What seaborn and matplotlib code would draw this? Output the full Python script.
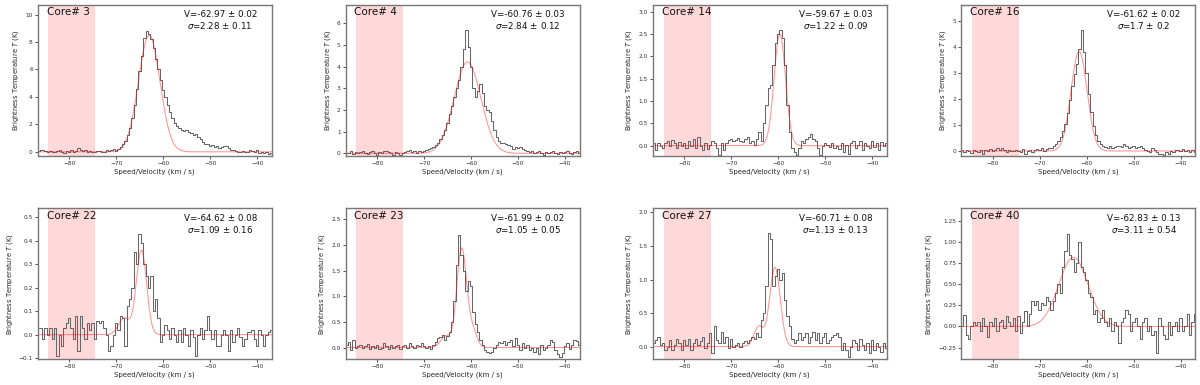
import numpy as np
import pandas as pd
from matplotlib import pyplot as plt
from matplotlib.ticker import MultipleLocator
import seaborn as sns

sns.set_style('ticks')
plt.rcParams['font.family'] = ['DejaVu Sans']

# channel centres (km/s), 0.5 km/s channels
vel = np.round(np.arange(-86.5, -36.75, 0.5), 2)

cores = ['3', '4', '14', '16', '22', '23', '27', '40']
v_txt = ['-62.97 ± 0.02', '-60.76 ± 0.03', '-59.67 ± 0.03', '-61.62 ± 0.02',
         '-64.62 ± 0.08', '-61.99 ± 0.02', '-60.71 ± 0.08', '-62.83 ± 0.13']
s_txt = ['2.28 ± 0.11', '2.84 ± 0.12', '1.22 ± 0.09', '1.7 ± 0.2',
         '1.09 ± 0.16', '1.05 ± 0.05', '1.13 ± 0.13', '3.11 ± 0.54']
ylims = [(-0.3, 10.7), (-0.12, 6.85), (-0.23, 3.15), (-0.19, 5.6),
         (-0.105, 0.537), (-0.23, 2.71), (-0.19, 2.06), (-0.39, 1.40)]
ysteps = [2, 1, 0.5, 1, 0.1, 0.5, 0.5, 0.25]

# brightness temperature spectra (K)
t_core3 = [0.05, 0.12, 0.1, 0.05, 0.0, 0.08, 0.02, -0.05, 0.05, 0.1,
           0.0, -0.1, 0.05, 0.02, 0.1, 0.0, 0.08, 0.25, 0.15, 0.05,
           0.1, -0.02, 0.05, -0.05, 0.02, 0.05, 0.08, 0.0, 0.02, 0.12,
           0.05, 0.1, 0.2, 0.05, 0.2, 0.35, 0.55, 0.8, 1.2, 1.7,
           2.5, 3.4, 4.6, 5.9, 7.0, 8.3, 8.8, 8.6, 8.2, 7.6,
           6.8, 6.0, 5.2, 4.5, 4.0, 3.4, 2.9, 2.5, 2.1, 1.9,
           1.7, 1.6, 1.5, 1.6, 1.45, 1.35, 1.2, 1.3, 1.05, 0.9,
           0.7, 0.55, 0.6, 0.45, 0.5, 0.35, 0.45, 0.3, 0.35, 0.4,
           0.45, 0.25, 0.1, 0.15, 0.05, 0.0, -0.05, 0.05, -0.02, 0.0,
           0.12, 0.05, -0.05, 0.1, -0.08, -0.02, -0.12, 0.0, -0.15, -0.1]
t_core4 = [0.02, 0.0, 0.1, -0.05, 0.05, 0.0, 0.08, 0.1, 0.02, -0.05,
           0.05, 0.1, 0.0, -0.1, 0.05, 0.0, 0.12, 0.1, 0.05, 0.0,
           -0.08, 0.05, 0.0, -0.1, 0.02, 0.05, 0.1, 0.15, 0.05, 0.1,
           0.02, 0.12, 0.05, 0.1, 0.15, 0.2, 0.25, 0.3, 0.4, 0.5,
           0.65, 0.85, 1.1, 1.4, 1.8, 2.2, 2.6, 3.0, 3.4, 4.0,
           4.8, 5.7, 4.9, 4.0, 3.0, 2.6, 2.9, 3.2, 2.8, 2.2,
           2.0, 1.9, 1.5, 1.1, 0.75, 0.55, 0.5, 0.5, 0.45, 0.4,
           0.35, 0.2, 0.3, 0.25, 0.3, 0.2, 0.15, 0.1, 0.05, 0.1,
           0.0, 0.05, 0.1, 0.0, -0.08, 0.05, 0.0, 0.05, 0.1, 0.02,
           -0.02, 0.05, 0.0, 0.05, 0.1, 0.0, -0.05, 0.05, 0.1, 0.02]
t_core14 = [0.05, -0.1, 0.05, 0.0, -0.05, 0.05, 0.1, 0.0, 0.12, 0.05,
            -0.05, 0.08, 0.0, 0.05, -0.05, 0.1, 0.0, 0.15, -0.05, 0.2,
            0.0, -0.1, 0.05, -0.08, 0.02, 0.1, 0.05, -0.05, -0.22, 0.05,
            -0.1, 0.05, 0.12, 0.15, 0.1, 0.12, 0.18, 0.1, 0.08, 0.15,
            0.2, 0.05, 0.1, 0.02, 0.15, 0.3, 0.1, 0.5, 0.9, 1.3,
            1.35, 1.8, 2.3, 2.5, 2.6, 2.4, 1.8, 0.9, 0.3, -0.05,
            -0.15, -0.2, -0.05, 0.1, 0.05, 0.15, 0.2, 0.25, 0.15, 0.1,
            -0.05, -0.2, 0.0, 0.05, 0.02, -0.02, 0.05, -0.05, 0.0, -0.08,
            0.05, -0.15, 0.02, -0.18, 0.05, 0.1, -0.05, 0.02, 0.1, -0.1,
            0.05, 0.0, -0.05, 0.1, -0.02, 0.05, -0.1, 0.08, 0.0, 0.05]
t_core16 = [0.05, -0.05, 0.02, 0.0, -0.08, 0.05, 0.0, -0.05, 0.02, -0.1,
            0.05, 0.0, 0.08, -0.02, 0.05, 0.1, 0.05, 0.12, 0.02, -0.05,
            0.05, 0.0, -0.02, 0.05, 0.0, -0.05, 0.08, -0.1, 0.0, 0.05,
            -0.05, 0.02, 0.08, 0.05, 0.1, 0.0, 0.08, 0.12, 0.1, 0.2,
            0.25, 0.4, 0.55, 0.75, 1.05, 1.45, 1.95, 2.5, 2.95, 3.35,
            3.9, 4.65, 3.8, 3.0, 2.2, 1.5, 0.95, 0.6, 0.4, 0.28,
            0.2, 0.15, 0.12, 0.2, 0.1, 0.15, 0.2, 0.2, 0.15, 0.25,
            0.2, 0.1, 0.15, 0.2, 0.1, 0.15, 0.2, 0.1, 0.05, 0.0,
            -0.05, 0.1, 0.05, -0.05, -0.1, -0.12, -0.15, -0.05, -0.12, 0.0,
            -0.05, 0.02, 0.05, -0.02, 0.08, 0.0, 0.05, -0.05, 0.02, -0.03]
t_core22 = [0.03, 0.03, -0.02, 0.03, 0.0, 0.03, -0.02, 0.03, -0.09, 0.0,
            -0.05, 0.03, 0.05, 0.07, 0.03, -0.02, 0.08, -0.07, 0.08, 0.03,
            -0.02, 0.05, 0.02, 0.05, -0.02, 0.06, 0.05, 0.06, 0.03, 0.0,
            -0.07, -0.05, 0.0, 0.05, 0.02, 0.08, 0.07, -0.05, 0.12, 0.15,
            0.2, 0.35, 0.3, 0.43, 0.39, 0.3, 0.25, 0.2, 0.25, 0.1,
            0.15, 0.07, -0.03, 0.0, 0.04, 0.02, -0.02, 0.03, 0.0, -0.03,
            0.02, -0.03, 0.03, 0.0, -0.05, 0.02, -0.01, -0.09, 0.0, 0.03,
            -0.02, 0.02, 0.08, 0.02, -0.02, 0.02, -0.05, -0.05, 0.0, 0.02,
            0.0, -0.07, 0.02, -0.03, 0.0, 0.03, -0.01, -0.05, -0.02, 0.01,
            0.01, 0.02, -0.02, -0.05, 0.02, 0.0, -0.05, 0.0, 0.01, 0.02]
t_core23 = [0.05, 0.1, -0.05, 0.15, 0.0, 0.03, 0.05, 0.0, 0.02, 0.06,
            -0.03, 0.02, 0.0, 0.05, -0.02, 0.0, 0.08, 0.02, -0.03, 0.05,
            0.0, 0.03, 0.05, -0.02, 0.02, 0.05, 0.0, 0.08, 0.03, 0.0,
            0.05, 0.02, 0.08, 0.03, 0.0, 0.02, -0.03, 0.05, 0.1, 0.18,
            0.2, 0.25, 0.15, 0.22, 0.3, 0.5, 0.9, 1.6, 2.2, 1.8,
            1.5, 1.1, 1.3, 1.2, 0.7, 0.45, 0.3, 0.15, 0.05, -0.05,
            -0.08, -0.1, -0.08, 0.0, 0.05, 0.1, 0.08, 0.12, 0.05, 0.1,
            0.15, 0.03, 0.18, 0.05, -0.05, 0.08, 0.0, 0.05, -0.05, 0.0,
            -0.08, 0.0, -0.12, 0.05, -0.05, 0.0, 0.05, 0.15, 0.1, -0.05,
            -0.12, -0.18, -0.1, 0.02, 0.08, -0.02, 0.05, 0.15, 0.12, 0.05]
t_core27 = [0.05, 0.1, 0.15, 0.02, 0.05, -0.05, 0.0, 0.1, -0.05, 0.02,
            0.12, 0.05, -0.05, 0.1, 0.02, 0.12, -0.05, 0.05, 0.12, 0.03,
            0.08, 0.15, -0.02, 0.05, 0.2, -0.1, 0.3, 0.1, 0.05, 0.22,
            0.05, 0.15, -0.02, 0.12, 0.0, 0.02, 0.05, 0.0, 0.05, 0.08,
            0.05, 0.1, 0.15, 0.12, 0.2, 0.15, 0.4, 0.5, 0.9, 1.7,
            1.6, 0.9, 1.05, 1.15, 1.0, 1.1, 0.7, 0.45, 0.3, 0.12,
            0.05, 0.1, 0.2, 0.1, 0.15, 0.2, 0.05, 0.15, 0.22, 0.1,
            0.2, 0.05, 0.15, 0.2, 0.05, 0.1, 0.15, 0.18, 0.2, 0.15,
            -0.05, 0.05, -0.05, -0.15, 0.0, 0.1, 0.05, -0.05, 0.12, 0.02,
            -0.05, 0.05, -0.1, 0.1, -0.05, 0.05, 0.0, -0.08, 0.05, -0.02]
t_core40 = [0.0, 0.13, -0.1, -0.15, 0.0, 0.05, 0.02, 0.05, -0.05, 0.1,
            0.0, -0.12, 0.05, 0.0, 0.1, -0.05, 0.05, 0.08, -0.02, 0.12,
            0.05, 0.0, 0.1, -0.05, 0.12, -0.08, 0.05, 0.18, 0.0, 0.15,
            0.3, 0.25, 0.3, 0.2, 0.28, 0.25, 0.35, 0.3, 0.2, 0.3,
            0.4, 0.5, 0.4, 0.7, 0.9, 1.1, 0.85, 0.8, 0.65, 0.75,
            1.0, 0.7, 0.65, 0.55, 0.4, 0.35, 0.15, 0.2, 0.05, 0.1,
            0.2, 0.05, 0.0, 0.1, -0.05, 0.05, 0.0, -0.2, 0.05, 0.1,
            0.2, 0.15, -0.05, 0.05, 0.1, 0.0, -0.15, 0.05, 0.1, -0.05,
            0.0, -0.1, -0.05, -0.32, 0.1, 0.0, -0.1, -0.15, 0.05, -0.1,
            0.0, 0.05, -0.05, 0.1, -0.05, 0.0, 0.15, -0.1, 0.05, 0.15]
spectra = [t_core3, t_core4, t_core14, t_core16,
           t_core22, t_core23, t_core27, t_core40]

# fitted gaussian components: (amplitude K, centre km/s, sigma km/s)
fits = [[(8.5, -62.97, 2.28)],
        [(4.22, -60.76, 2.84)],
        [(2.5, -59.67, 1.22)],
        [(3.82, -61.62, 1.7)],
        [(0.36, -64.62, 1.09), (0.07, -68.3, 1.2)],
        [(1.93, -61.99, 1.05), (0.22, -65.4, 1.1), (0.3, -59.6, 0.9)],
        [(1.18, -60.71, 1.13), (0.3, -64.2, 1.0)],
        [(0.82, -62.83, 3.11)]]

# emission-free window used for the rms
win_lo, win_hi = -84.4, -74.4

fig = plt.figure(figsize=(12, 3.85), dpi=100)
lefts = [0.0314, 0.288, 0.544, 0.801]
bottoms = [0.595, 0.0667]
vfine = np.linspace(-86.7, -36.9, 600)

for k in range(8):
    assert len(spectra[k]) == len(vel), (cores[k], len(spectra[k]))
    ax = fig.add_axes([lefts[k % 4], bottoms[k // 4], 0.195, 0.392])
    df = pd.DataFrame({'v': vel, 'T': spectra[k]})
    ax.axvspan(win_lo, win_hi, color='red', alpha=0.15, lw=0)
    sns.lineplot(data=df, x='v', y='T', ax=ax, color='#666666', lw=0.75,
                 drawstyle='steps-mid')
    model = np.zeros_like(vfine)
    for a, c, s in fits[k]:
        model += a * np.exp(-0.5 * ((vfine - c) / s) ** 2)
    sns.lineplot(x=vfine, y=model, ax=ax, color='red', alpha=0.4, lw=0.8)

    ax.set_xlim(-86.7, -36.9)
    ax.set_ylim(*ylims[k])
    ax.set_xticks([-80, -70, -60, -50, -40])
    ax.yaxis.set_major_locator(MultipleLocator(ysteps[k]))
    ax.set_xlabel('Speed/Velocity (km / s)', fontsize=5, labelpad=2)
    ax.set_ylabel('Brightness Temperature $T$ (K)', fontsize=4.9, labelpad=3)
    ax.tick_params(labelsize=4.2, length=2, width=0.6, pad=1.5, colors='#333333')
    for sp in ax.spines.values():
        sp.set_color('#777777')
        sp.set_linewidth(1.0)

    ax.text(0.038, 0.985, 'Core# ' + cores[k], transform=ax.transAxes,
            fontsize=7.5, ha='left', va='top', color='#111111')
    ax.text(0.78, 0.965, 'V=' + v_txt[k] + '\n$\\sigma$=' + s_txt[k],
            transform=ax.transAxes, fontsize=6.3, ha='center', va='top',
            multialignment='center', linespacing=1.1, color='#111111')

plt.savefig('out.png', dpi=100)
